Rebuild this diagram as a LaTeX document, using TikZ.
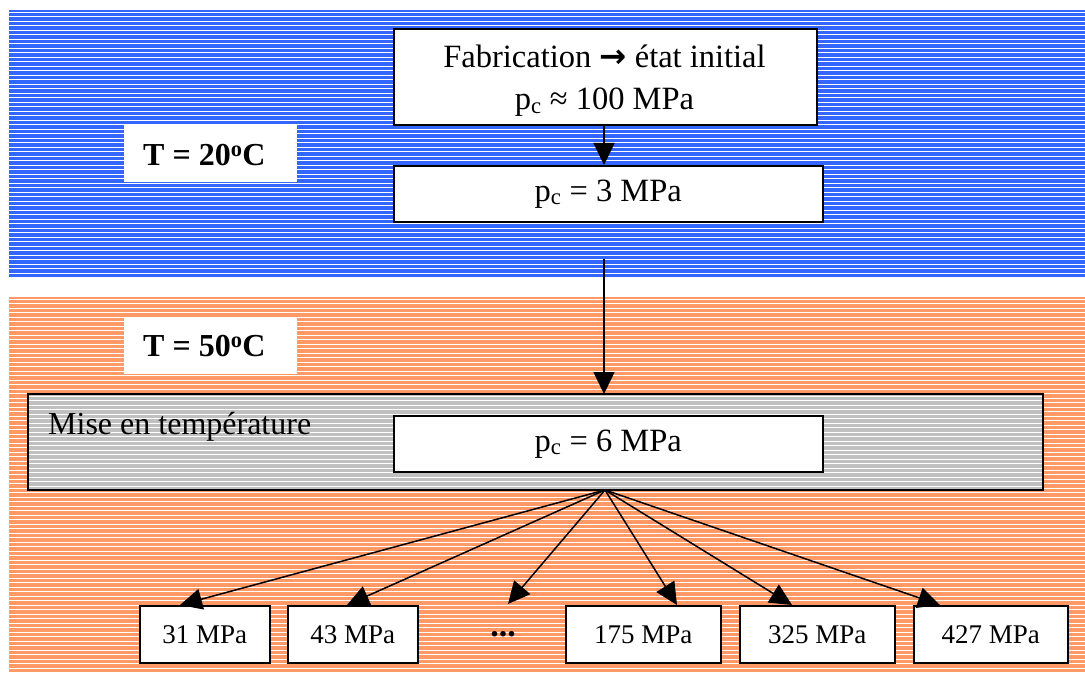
\documentclass[tikz,border=0pt]{standalone}
\usepackage{fontspec}
\setmainfont{Liberation Serif}
\newfontfamily\djv{DejaVu Sans}
\usetikzlibrary{arrows.meta}
\definecolor{bandblue}{HTML}{3366FF}
\definecolor{bandorange}{HTML}{FF9966}
\definecolor{bandgray}{HTML}{C0C0C0}
\tikzset{
  stripes/.style={path picture={
    \foreach \k in {0,...,90}{
      \draw[white,line width=#1]
        ([yshift=-\k*4.5pt-2.2pt]path picture bounding box.north west) --
        ([yshift=-\k*4.5pt-2.2pt]path picture bounding box.north east);}}},
  band/.style={anchor=north west,inner sep=0pt,outer sep=0pt},
  whitebox/.style={anchor=north west,draw=black,line width=1.6pt,fill=white,
    inner sep=0pt,align=center,font=\fontsize{32.5}{42}\selectfont},
  smallbox/.style={anchor=north west,draw=black,line width=1.6pt,fill=white,
    inner sep=0pt,minimum height=57pt,font=\fontsize{27}{30}\selectfont},
  tempbox/.style={anchor=north west,fill=white,inner sep=0pt,
    minimum width=173pt,minimum height=57pt},
  templbl/.style={anchor=west,inner sep=0pt,font=\fontsize{32}{36}\selectfont\bfseries},
  arr/.style={line width=1.5pt,-{Triangle[length=22pt,width=21pt]}}
}
\newcommand{\pcsub}{p\textsubscript{c}}
\begin{document}
\begin{tikzpicture}[x=1pt,y=-1pt]
\useasboundingbox (0,0) rectangle (1085,674);
\fill[white] (0,0) rectangle (1085,674);
% bands
\node[band,fill=bandblue,stripes=1.3pt,minimum width=1076pt,minimum height=267pt] (blueband) at (9,10) {};
\node[band,fill=bandorange,stripes=1.0pt,minimum width=1076pt,minimum height=376pt] (orangeband) at (9,297) {};
% temperature labels
\node[tempbox] (t20) at (124,125) {};
\node[templbl] (t20lbl) at (143,155) {T = 20\textsuperscript{o}C};
\node[tempbox] (t50) at (124,317) {};
\node[templbl] (t50lbl) at (143,346) {T = 50\textsuperscript{o}C};
% top boxes
\node[whitebox,minimum width=423pt,minimum height=96pt] (fab) at (393,28) {};
\node[inner sep=0pt,align=center,font=\fontsize{32.5}{42}\selectfont] (fablbl) at (604.5,81)
  {Fabrication {\djv\bfseries →} état initial\\ \pcsub{} ≈ 100 MPa};
\node[whitebox,minimum width=429pt,minimum height=56pt] (pc3) at (393,165) {\pcsub{} = 3 MPa};
% heating box
\node[band,draw=black,line width=1.6pt,fill=bandgray,stripes=1.0pt,minimum width=1015pt,minimum height=96pt] (heat) at (28,394) {};
\node[anchor=west,inner sep=0pt,font=\fontsize{32}{36}\selectfont] (heatlbl) at (48,427) {Mise en température};
\node[whitebox,minimum width=429pt,minimum height=56pt] (pc6) at (393,415) {\pcsub{} = 6 MPa};
% bottom boxes
\node[smallbox,minimum width=130pt] (b31) at (139,605) {31 MPa};
\node[smallbox,minimum width=130pt] (b43) at (287,605) {43 MPa};
\node[inner sep=0pt,font=\fontsize{34}{36}\selectfont\bfseries] (dots) at (503,634) {...};
\node[smallbox,minimum width=155pt] (b175) at (565,605) {175 MPa};
\node[smallbox,minimum width=155pt] (b325) at (739,605) {325 MPa};
\node[smallbox,minimum width=154pt] (b427) at (913,605) {427 MPa};
% connectors
\coordinate (s) at (604,259);
\coordinate (fan) at (605,490);
\draw[arr] (fab.south -| 604,0) -- (604,0 |- pc3.north);
\draw[arr] (s) -- (s |- heat.north);
\draw[arr] (fan) -- (180,0 |- b31.north);
\draw[arr] (fan) -- (347,0 |- b43.north);
\draw[arr] (fan) -- (508,604);
\draw[arr] (fan) -- (677,0 |- b175.north);
\draw[arr] (fan) -- (792,0 |- b325.north);
\draw[arr] (fan) -- (940,0 |- b427.north);
\end{tikzpicture}
\end{document}
